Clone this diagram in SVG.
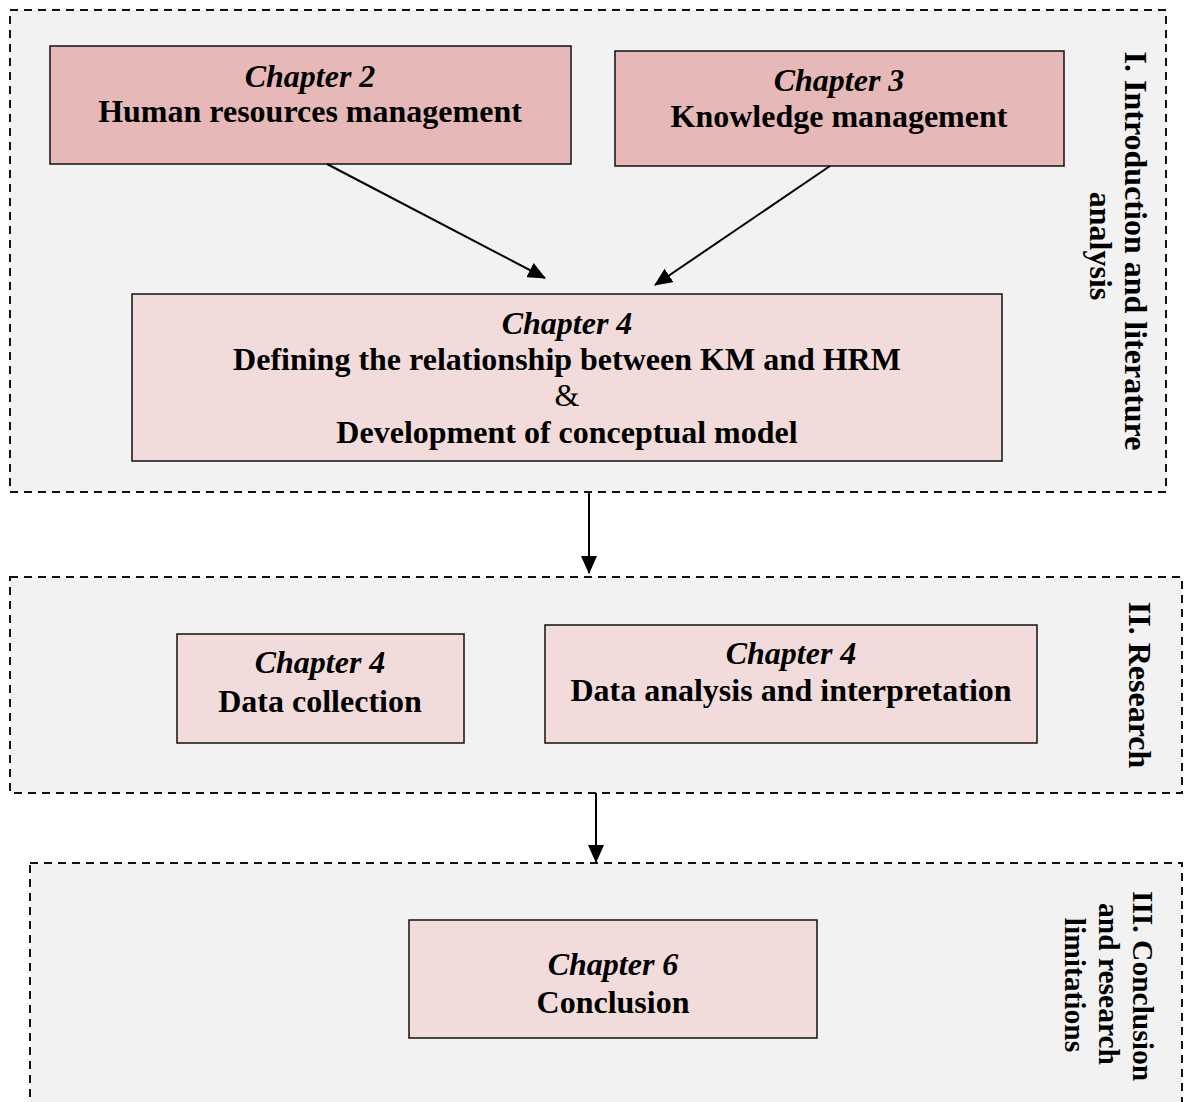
<svg xmlns="http://www.w3.org/2000/svg" width="1187" height="1102" viewBox="0 0 1187 1102">
  <style>
    .section { fill: #f2f2f2; stroke: #111; stroke-width: 2; stroke-dasharray: 8 6; }
    .dark { fill: #e6b8b7; stroke: #111; stroke-width: 1.5; }
    .light { fill: #f2dcdb; stroke: #111; stroke-width: 1.5; }
    text { font-family: "Liberation Serif", "Times New Roman", serif; font-size: 32px; fill: #000; text-anchor: middle; }
    .b { font-weight: bold; }
    .bi { font-weight: bold; font-style: italic; }
    .sm { font-size: 29.5px; }
    .edge { stroke: #000; stroke-width: 2; fill: none; }
  </style>
  <defs>
    <marker id="arrow" markerWidth="18" markerHeight="16" refX="17" refY="8" orient="auto" markerUnits="userSpaceOnUse" viewBox="0 0 18 16">
      <path d="M0,0 L18,8 L0,16 Z" fill="#000"/>
    </marker>
  </defs>
  <rect width="1187" height="1102" fill="#ffffff"/>

  <!-- Phase containers -->
  <g id="section-1">
    <rect class="section" x="10" y="10" width="1156" height="482"/>
    <text class="b" transform="translate(1125,251) rotate(90)">I. Introduction and literature</text>
    <text class="b" transform="translate(1090,246) rotate(90)">analysis</text>
  </g>
  <g id="section-2">
    <rect class="section" x="10" y="577" width="1172" height="216"/>
    <text class="b" transform="translate(1129,685) rotate(90)">II. Research</text>
  </g>
  <g id="section-3">
    <rect class="section" x="30" y="863" width="1152" height="260"/>
    <text class="b sm" transform="translate(1133,986) rotate(90)">III. Conclusion</text>
    <text class="b sm" transform="translate(1099,984) rotate(90)">and research</text>
    <text class="b sm" transform="translate(1065,985) rotate(90)">limitations</text>
  </g>

  <!-- Chapters -->
  <g id="ch2-hrm">
    <rect class="dark" x="50" y="46" width="521" height="118"/>
    <text class="bi" x="310" y="87">Chapter 2</text>
    <text class="b" x="310" y="122">Human resources management</text>
  </g>
  <g id="ch3-km">
    <rect class="dark" x="615" y="51" width="449" height="115"/>
    <text class="bi" x="839" y="91">Chapter 3</text>
    <text class="b" x="839" y="127">Knowledge management</text>
  </g>
  <g id="ch4-model">
    <rect class="light" x="132" y="294" width="870" height="167"/>
    <text class="bi" x="567" y="334">Chapter 4</text>
    <text class="b" x="567" y="370">Defining the relationship between KM and HRM</text>
    <text x="567" y="406">&amp;</text>
    <text class="b" x="567" y="443">Development of conceptual model</text>
  </g>
  <g id="ch4-data-collection">
    <rect class="light" x="177" y="634" width="287" height="109"/>
    <text class="bi" x="320" y="673">Chapter 4</text>
    <text class="b" x="320" y="712">Data collection</text>
  </g>
  <g id="ch4-data-analysis">
    <rect class="light" x="545" y="625" width="492" height="118"/>
    <text class="bi" x="791" y="664">Chapter 4</text>
    <text class="b" x="791" y="701">Data analysis and interpretation</text>
  </g>
  <g id="ch6-conclusion">
    <rect class="light" x="409" y="920" width="408" height="118"/>
    <text class="bi" x="613" y="975">Chapter 6</text>
    <text class="b" x="613" y="1013">Conclusion</text>
  </g>

  <!-- Connectors -->
  <g id="connectors">
    <line class="edge" x1="327" y1="164" x2="545" y2="278" marker-end="url(#arrow)"/>
    <line class="edge" x1="830" y1="166" x2="655" y2="285" marker-end="url(#arrow)"/>
    <line class="edge" x1="589" y1="492" x2="589" y2="573" marker-end="url(#arrow)"/>
    <line class="edge" x1="596" y1="793" x2="596" y2="862" marker-end="url(#arrow)"/>
  </g>
</svg>
